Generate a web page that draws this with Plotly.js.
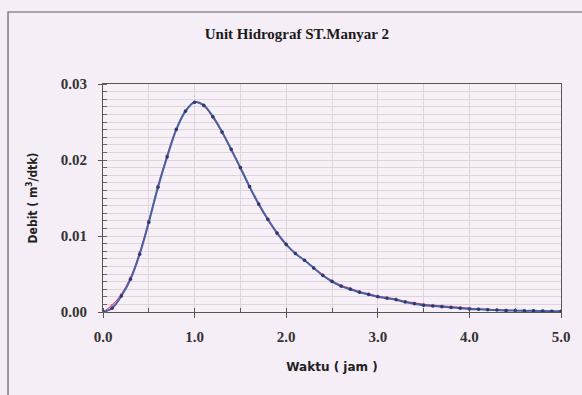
<!DOCTYPE html>
<html><head><meta charset="utf-8">
<script src="https://cdn.plot.ly/plotly-3.0.1.min.js"></script>
<style>html,body{margin:0;padding:0;background:#f6eef6;}#chart{width:582px;height:395px;}</style>
</head><body><div id="chart"></div>
<script>
// Waktu (jam)
const waktu = [0.0,0.1,0.2,0.3,0.4,0.5,0.6,0.7,0.8,0.9,1.0,1.1,1.2,1.3,1.4,1.5,1.6,1.7,1.8,1.9,2.0,
  2.1,2.2,2.3,2.4,2.5,2.6,2.7,2.8,2.9,3.0,3.1,3.2,3.3,3.4,3.5,3.6,3.7,3.8,3.9,4.0,
  4.1,4.2,4.3,4.4,4.5,4.6,4.7,4.8,4.9,5.0];
// Debit series 1 (blue)
const debitBiru = [0,0.0005,0.0021,0.0043,0.0076,0.0118,0.0164,0.0204,0.0240,0.0264,0.0276,0.0272,0.0257,0.0237,0.0214,0.0190,0.0165,0.0142,0.0122,0.0104,0.0089,
  0.0077,0.0068,0.0058,0.0048,0.0040,0.0034,0.0030,0.0026,0.0023,0.0020,0.0018,0.0016,0.0013,0.0011,0.0009,0.0008,0.0007,0.0006,0.0005,0.0004,
  0.00035,0.0003,0.00025,0.0002,0.0002,0.00015,0.00015,0.00012,0.0001,0.0001];
// Debit series 2 (red)
const debitMerah = [0,0.0009,0.0023,0.0045,0.0078,0.0120,0.0166,0.0206,0.0241,0.0265,0.0276,0.0271,0.0256,0.0236,0.0213,0.0189,0.0164,0.0141,0.0121,0.0103,0.0088,
  0.0077,0.0068,0.0058,0.0049,0.0041,0.0035,0.0031,0.0027,0.0024,0.0021,0.0019,0.0017,0.0014,0.0012,0.0010,0.0009,0.0008,0.0007,0.0006,0.0005,
  0.0004,0.00035,0.0003,0.00025,0.0002,0.0002,0.00015,0.00015,0.0001,0.0001];
const xTicks = [0,1,2,3,4,5];
const xTickText = ['0.0','1.0','2.0','3.0','4.0','5.0'];
const yTicks = [0,0.01,0.02,0.03];
const yTickText = ['0.00','0.01','0.02','0.03'];

const traces = [
  {x: waktu, y: debitMerah, mode: 'lines+markers', line: {color: '#e0457a', width: 1.2, shape: 'spline'},
   marker: {color: '#f06090', size: 3}, hoverinfo: 'none'},
  {x: waktu, y: debitBiru, mode: 'lines+markers', line: {color: '#4563a3', width: 2, shape: 'spline'},
   marker: {color: '#2a3a6a', size: 3.5}, hoverinfo: 'none'}
];
const gridC = '#ddd5dd';
const layout = {
  width: 582, height: 395,
  margin: {l: 103, r: 21, t: 84, b: 83},
  paper_bgcolor: '#f6eef6', plot_bgcolor: '#f7f0f7',
  showlegend: false,
  title: {text: 'Unit Hidrograf ST.Manyar 2', x: 0.51, xanchor: 'center', y: 0.915, yanchor: 'middle',
    font: {family: 'Liberation Serif', size: 15, color: '#1a1a1a', weight: 'bold'}},
  xaxis: {range: [0, 5], tickvals: xTicks, ticktext: xTickText, ticks: 'outside', ticklen: 5, tickcolor: '#555',
    ticklabelstandoff: 6,
    showline: true, linecolor: '#555', linewidth: 1, mirror: true, showgrid: true, gridcolor: gridC, zeroline: false,
    tickfont: {family: 'Liberation Serif', size: 15, color: '#333', weight: 'bold'},
    minor: {dtick: 0.5, ticks: 'inside', ticklen: 4, tickcolor: '#555', showgrid: true, gridcolor: gridC},
    title: {text: 'Waktu ( jam )', standoff: 18, font: {family: 'DejaVu Sans', size: 12, color: '#222', weight: 'bold'}}},
  yaxis: {range: [0, 0.03], tickvals: yTicks, ticktext: yTickText, ticks: 'outside', ticklen: 4, tickcolor: '#555',
    ticklabelstandoff: 8,
    showline: true, linecolor: '#555', linewidth: 1, mirror: true, showgrid: true, gridcolor: gridC, zeroline: false,
    tickfont: {family: 'Liberation Serif', size: 15, color: '#333', weight: 'bold'},
    minor: {dtick: 0.001, ticks: 'inside', ticklen: 4, tickcolor: '#666', showgrid: true, gridcolor: gridC},
    title: {text: 'Debit ( m<sup>3</sup>/dtk)', standoff: 20, font: {family: 'DejaVu Sans Condensed', size: 12, color: '#222', weight: 'bold'}}},
  shapes: [
    {type: 'rect', xref: 'paper', yref: 'paper', x0: -0.2074, x1: 1.07, y0: -0.40, y1: 1.3158,
     line: {color: '#55605a', width: 1.2}, fillcolor: 'rgba(0,0,0,0)', layer: 'below'}
  ]
};
Plotly.newPlot('chart', traces, layout, {staticPlot: true, displayModeBar: false});
</script></body></html>
